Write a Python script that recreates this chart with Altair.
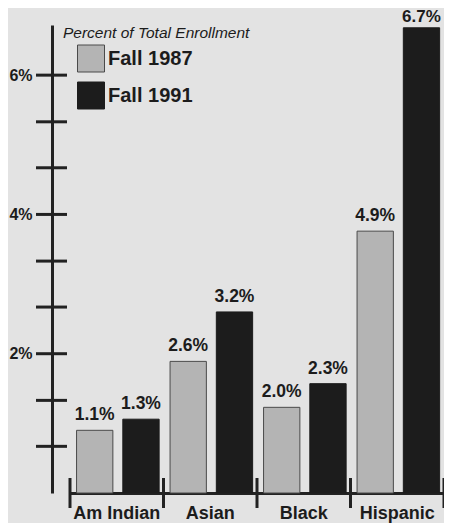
import altair as alt
import pandas as pd

categories = ["Am Indian", "Asian", "Black", "Hispanic"]
years = ["Fall 1987", "Fall 1991"]
# printed percentages
label_1987 = [1.1, 2.6, 2.0, 4.9]
label_1991 = [1.3, 3.2, 2.3, 6.7]
# bar heights as drawn against the printed axis
bar_1987 = [0.90, 1.89, 1.23, 3.76]
bar_1991 = [1.06, 2.60, 1.57, 6.68]
tick_values = [0.67, 1.33, 2, 2.67, 3.33, 4, 4.67, 5.33, 6]
label_values = [2, 4, 6]

rows = []
for i, c in enumerate(categories):
    rows.append({"cat": c, "year": years[0], "pct": bar_1987[i], "lab": f"{label_1987[i]:.1f}%"})
    rows.append({"cat": c, "year": years[1], "pct": bar_1991[i], "lab": f"{label_1991[i]:.1f}%"})
df = pd.DataFrame(rows)
ticks_df = pd.DataFrame({"pct": tick_values})
bounds_df = pd.DataFrame({"cat": categories})

FONT = "Liberation Sans"
INK = "#1c1c1c"
W, H = 392, 468
TOP_LIMIT = 6.0  # labels above this value sit a little closer to their bar

x_scale = alt.Scale(domain=categories, range=[18, W], paddingInner=0, paddingOuter=0)
y_scale = alt.Scale(domain=[0, 6.72], nice=False, zero=True)
color_scale = alt.Scale(domain=years, range=["#b4b4b4", "#1c1c1c"])
stroke_scale = alt.Scale(domain=years, range=["#4a4a4a", "#1c1c1c"])

base = alt.Chart(df)

bars = base.mark_bar(strokeWidth=1).encode(
    x=alt.X("cat:N", scale=x_scale, sort=categories,
            axis=alt.Axis(title=None, ticks=False, tickSize=0, labelAngle=0,
                          labelFont=FONT, labelFontSize=18, labelFontWeight="bold",
                          labelColor=INK, labelPadding=11, domainColor="#222222",
                          domainWidth=3)),
    xOffset=alt.XOffset("year:N", sort=years,
                        scale=alt.Scale(paddingInner=0.215, paddingOuter=0.118, align=0.6)),
    y=alt.Y("pct:Q", scale=y_scale,
            axis=alt.Axis(title=None, values=label_values, labelExpr="datum.value + '%'",
                          ticks=False, tickSize=0, grid=False, labelFont=FONT,
                          labelFontSize=16, labelFontWeight="bold", labelColor=INK,
                          labelPadding=20, domainColor="#222222", domainWidth=3)),
    color=alt.Color("year:N", scale=color_scale, sort=years,
                    legend=alt.Legend(title="Percent of Total Enrollment", orient="none",
                                      legendX=11, legendY=1, padding=0,
                                      titleFont=FONT, titleFontSize=15.5,
                                      titleFontStyle="italic", titleFontWeight="normal",
                                      titleColor=INK, titlePadding=3, titleLimit=400,
                                      symbolType="square", symbolSize=729,
                                      symbolOffset=14, symbolStrokeWidth=1,
                                      labelFont=FONT, labelFontSize=20,
                                      labelFontWeight="bold", labelColor=INK,
                                      labelOffset=3, rowPadding=5, labelLimit=300)),
    stroke=alt.Stroke("year:N", scale=stroke_scale, sort=years, legend=None),
)

text_enc = dict(
    x=alt.X("cat:N", scale=x_scale, sort=categories),
    xOffset=alt.XOffset("year:N", sort=years),
    y=alt.Y("pct:Q", scale=y_scale),
    text="lab:N",
)

texts = base.transform_filter(alt.datum.pct < TOP_LIMIT).mark_text(
    font=FONT, fontSize=17.5, fontWeight="bold", color=INK,
    baseline="alphabetic", dy=-10).encode(**text_enc)

texts_top = base.transform_filter(alt.datum.pct >= TOP_LIMIT).mark_text(
    font=FONT, fontSize=17, fontWeight="bold", color=INK,
    baseline="alphabetic", dy=-6).encode(**text_enc)

yticks = alt.Chart(ticks_df).mark_rule(color="#222222", strokeWidth=3).encode(
    y=alt.Y("pct:Q", scale=y_scale),
    x=alt.value(-16),
    x2=alt.value(15),
)

xticks = alt.Chart(bounds_df).mark_rule(color="#222222", strokeWidth=3).encode(
    x=alt.X("cat:N", scale=x_scale, sort=categories, bandPosition=0),
    y=alt.value(H - 15),
    y2=alt.value(H + 15),
)

xtick_end = alt.Chart(bounds_df).transform_filter(
    alt.datum.cat == categories[-1]
).mark_rule(color="#222222", strokeWidth=3).encode(
    x=alt.X("cat:N", scale=x_scale, sort=categories, bandPosition=1),
    y=alt.value(H - 15),
    y2=alt.value(H + 15),
)

chart = alt.layer(bars, texts, texts_top, yticks, xticks, xtick_end).properties(
    width=W, height=H,
    autosize=alt.AutoSizeParams(type="none"),
    padding={"left": 44, "top": 17, "right": 0, "bottom": 30},
    background="#e3e3e3",
).configure_view(stroke=None)

chart.save("out.html", embed_options={"renderer": "svg", "actions": False})
